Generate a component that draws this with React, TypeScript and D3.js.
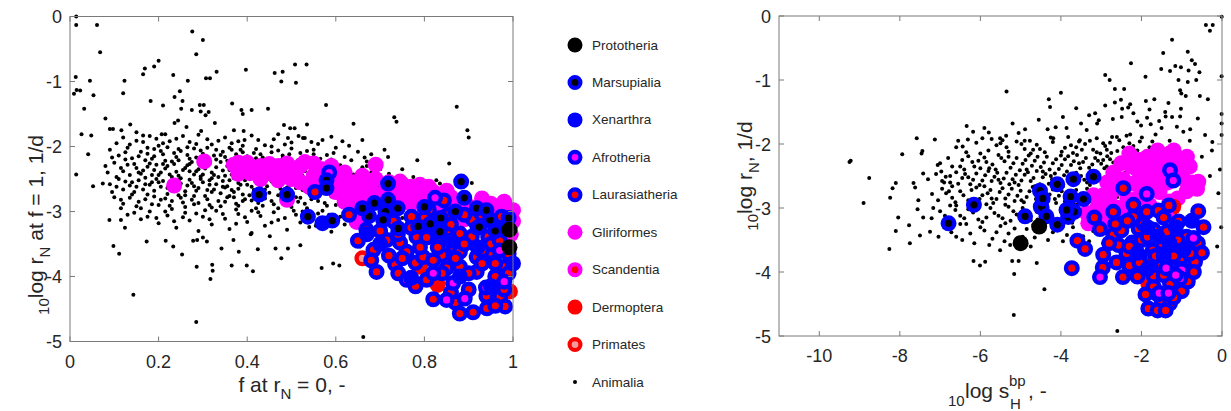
import React from "react";
import * as d3 from "d3";

type P = [number, number];

// ---------- LEFT PANEL DATA (x: f at rN = 0, y: 10log rN at f = 1) ----------
const leftAnimaliaOuter: P[] = [
  [0.014,0.0],[0.014,-0.13],[0.061,-0.13],[0.068,-0.55],[0.276,-0.23],[0.30,-0.36],[0.285,-0.58],[0.20,-0.68],[0.19,-0.77],[0.169,-0.80],
  [0.165,-0.89],[0.233,-0.90],[0.013,-0.93],[0.045,-0.99],[0.123,-0.99],[0.266,-0.99],[0.307,-0.95],[0.316,-0.95],[0.331,-0.85],[0.397,-0.82],
  [0.462,-0.87],[0.48,-0.85],[0.508,-0.74],[0.51,-1.02],[0.477,-1.0],[0.534,-0.74],[0.009,-1.19],[0.015,-1.13],[0.023,-1.14],[0.053,-1.21],
  [0.12,-1.18],[0.032,-1.42],[0.182,-1.30],[0.21,-1.37],[0.236,-1.24],[0.248,-1.15],[0.254,-1.30],[0.251,-1.42],[0.275,-1.44],[0.293,-1.36],
  [0.302,-1.36],[0.295,-1.46],[0.306,-1.52],[0.313,-1.47],[0.366,-1.34],[0.387,-1.44],[0.41,-1.44],[0.447,-1.42],[0.39,-1.50],[0.327,-1.64],
  [0.08,-1.57],[0.09,-1.73],[0.097,-1.73],[0.116,-1.75],[0.136,-1.66],[0.026,-1.81],[0.048,-1.83],[0.041,-2.12],[0.014,-2.43],[0.236,-1.64],
  [0.244,-1.60],[0.263,-1.70],[0.215,-1.81],[0.207,-1.81],[0.165,-1.83],[0.15,-1.78],[0.296,-1.76],[0.37,-1.75],[0.392,-1.76],[0.394,-1.90],
  [0.483,-1.67],[0.497,-1.72],[0.507,-1.72],[0.516,-1.84],[0.492,-1.87],[0.535,-1.66],[0.526,-1.87],
  [0.873,-1.39],[0.732,-1.55],[0.737,-1.62],[0.64,-1.65],[0.897,-1.75],[0.90,-1.86],[0.578,-1.36],
  [0.052,-2.61],[0.074,-2.57],[0.089,-3.13],[0.115,-3.13],[0.124,-3.25],[0.098,-3.53],[0.111,-3.65],[0.143,-4.28],[0.173,-3.46],[0.216,-3.45],
  [0.233,-3.54],[0.253,-3.66],[0.285,-4.70],[0.286,-3.85],[0.321,-3.82],[0.322,-3.91],[0.317,-4.04],[0.278,-3.45],[0.287,-3.44],[0.30,-3.40],
  [0.309,-3.46],[0.342,-3.57],[0.365,-3.83],[0.399,-3.83],[0.413,-3.92],[0.381,-3.62],[0.424,-3.58],[0.464,-3.57],[0.477,-3.72],[0.492,-3.57],
  [0.52,-3.52],[0.451,-3.38],[0.408,-3.35],[0.369,-3.44],
  [0.718,-2.16],[0.784,-2.21],[0.856,-2.26],[0.67,-2.23],[0.827,-2.52],[0.835,-2.57],[0.775,-2.47],[0.907,-2.56],[0.655,-3.54],[0.608,-3.83],
  [0.594,-3.80],[0.568,-3.87],[0.662,-4.93],
];
const leftAnimaliaCore: P[] = [
  [0.12,-1.86],[0.15,-1.91],[0.18,-1.84],[0.21,-1.95],[0.24,-1.88],[0.27,-1.93],[0.29,-1.82],[0.32,-1.97],[0.35,-1.86],[0.38,-1.92],
  [0.41,-1.83],[0.44,-1.98],[0.46,-1.89],[0.50,-1.94],[0.53,-1.87],[0.56,-1.96],[0.59,-1.85],[0.63,-1.99],[0.66,-1.90],[0.20,-1.99],
  [0.31,-1.89],[0.39,-1.99],[0.47,-1.81],[0.57,-1.90],
  [0.09,-2.05],[0.11,-2.14],[0.13,-2.02],[0.14,-2.18],[0.16,-2.08],[0.17,-2.21],[0.19,-2.04],[0.21,-2.12],[0.22,-2.01],[0.24,-2.16],
  [0.25,-2.07],[0.27,-2.19],[0.28,-2.03],[0.30,-2.11],[0.31,-2.17],[0.33,-2.05],[0.34,-2.13],[0.36,-2.02],[0.37,-2.19],[0.39,-2.09],
  [0.40,-2.15],[0.42,-2.04],[0.43,-2.12],[0.45,-2.20],[0.47,-2.06],[0.48,-2.14],[0.50,-2.03],[0.52,-2.10],[0.54,-2.18],[0.55,-2.05],
  [0.58,-2.13],[0.60,-2.02],[0.62,-2.16],[0.65,-2.08],[0.68,-2.12],[0.71,-2.05],
  [0.08,-2.30],[0.10,-2.25],[0.12,-2.38],[0.13,-2.28],[0.15,-2.33],[0.16,-2.42],[0.18,-2.26],[0.19,-2.36],[0.20,-2.44],[0.22,-2.30],
  [0.23,-2.23],[0.24,-2.39],[0.26,-2.33],[0.27,-2.27],[0.28,-2.43],[0.29,-2.35],[0.30,-2.29],[0.32,-2.40],[0.33,-2.32],[0.34,-2.24],
  [0.35,-2.45],[0.36,-2.36],[0.38,-2.28],[0.39,-2.41],[0.40,-2.33],[0.41,-2.25],[0.42,-2.44],[0.44,-2.37],[0.45,-2.30],[0.46,-2.42],
  [0.48,-2.26],[0.49,-2.35],[0.51,-2.43],[0.52,-2.31],[0.53,-2.38],[0.55,-2.27],[0.57,-2.44],[0.58,-2.34],[0.60,-2.40],[0.61,-2.29],
  [0.63,-2.36],[0.64,-2.43],[0.66,-2.32],[0.68,-2.40],[0.70,-2.35],[0.72,-2.42],
  [0.09,-2.58],[0.11,-2.50],[0.12,-2.66],[0.14,-2.55],[0.15,-2.62],[0.17,-2.48],[0.18,-2.59],[0.19,-2.68],[0.21,-2.53],[0.22,-2.64],
  [0.23,-2.47],[0.25,-2.57],[0.26,-2.69],[0.27,-2.51],[0.28,-2.61],[0.30,-2.55],[0.31,-2.67],[0.32,-2.49],[0.33,-2.58],[0.35,-2.63],
  [0.36,-2.52],[0.37,-2.70],[0.38,-2.56],[0.40,-2.48],[0.41,-2.62],[0.43,-2.54],[0.44,-2.66],[0.45,-2.50],[0.47,-2.59],[0.48,-2.68],
  [0.50,-2.55],[0.51,-2.64],[0.53,-2.49],[0.54,-2.60],[0.56,-2.69],[0.57,-2.53],[0.59,-2.64],[0.61,-2.57],[0.62,-2.68],[0.64,-2.51],
  [0.65,-2.62],[0.67,-2.55],[0.69,-2.66],[0.71,-2.59],[0.74,-2.63],
  [0.10,-2.78],[0.12,-2.88],[0.14,-2.74],[0.15,-2.92],[0.17,-2.81],[0.19,-2.77],[0.20,-2.90],[0.22,-2.73],[0.23,-2.84],[0.25,-2.79],
  [0.26,-2.93],[0.28,-2.76],[0.29,-2.87],[0.31,-2.81],[0.32,-2.94],[0.34,-2.72],[0.35,-2.85],[0.37,-2.78],[0.38,-2.91],[0.39,-2.74],
  [0.41,-2.83],[0.42,-2.95],[0.44,-2.80],[0.46,-2.89],[0.47,-2.75],[0.49,-2.86],[0.50,-2.93],[0.52,-2.79],[0.53,-2.88],[0.55,-2.73],
  [0.56,-2.84],[0.58,-2.91],[0.59,-2.77],[0.61,-2.86],[0.63,-2.93],[0.64,-2.80],[0.66,-2.89],[0.68,-2.76],[0.70,-2.85],[0.72,-2.92],
  [0.13,-3.05],[0.16,-3.12],[0.18,-3.00],[0.20,-3.18],[0.22,-3.06],[0.24,-3.25],[0.26,-3.02],[0.27,-3.14],[0.29,-3.30],[0.30,-3.08],
  [0.32,-3.20],[0.33,-2.99],[0.35,-3.11],[0.36,-3.27],[0.38,-3.04],[0.40,-3.16],[0.41,-3.33],[0.43,-3.07],[0.44,-3.22],[0.46,-3.01],
  [0.47,-3.13],[0.49,-3.28],[0.51,-3.05],[0.52,-3.17],[0.54,-3.24],[0.56,-3.03],[0.57,-3.15],[0.59,-3.31],[0.61,-3.08],[0.62,-3.20],
  [0.64,-3.02],[0.66,-3.14],[0.68,-3.26],[0.70,-3.05],[0.73,-3.18],[0.75,-3.10],
];
const leftAnimaliaFill: P[] = [
  [0.105,-1.95],[0.135,-1.97],[0.165,-1.93],[0.195,-1.88],[0.225,-1.92],[0.255,-1.84],[0.285,-1.96],[0.335,-1.91],[0.365,-1.95],[0.425,-1.90],
  [0.485,-1.97],[0.545,-1.93],[0.615,-1.92],
  [0.095,-2.17],[0.125,-2.09],[0.155,-2.15],[0.175,-2.11],[0.185,-2.19],[0.205,-2.07],[0.215,-2.22],[0.235,-2.10],[0.245,-2.04],[0.265,-2.13],
  [0.275,-2.24],[0.295,-2.06],[0.305,-2.21],[0.325,-2.14],[0.345,-2.08],[0.355,-2.22],[0.375,-2.12],[0.385,-2.05],[0.405,-2.20],[0.415,-2.10],
  [0.435,-2.17],[0.455,-2.09],[0.465,-2.23],[0.495,-2.12],[0.515,-2.21],[0.535,-2.07],[0.565,-2.19],[0.595,-2.10],[0.635,-2.21],[0.665,-2.17],
  [0.695,-2.24],
  [0.115,-2.33],[0.145,-2.27],[0.165,-2.37],[0.175,-2.31],[0.195,-2.28],[0.205,-2.40],[0.215,-2.34],[0.235,-2.27],[0.245,-2.45],[0.255,-2.36],
  [0.265,-2.29],[0.285,-2.38],[0.295,-2.46],[0.305,-2.34],[0.315,-2.26],[0.325,-2.44],[0.345,-2.37],[0.355,-2.30],[0.365,-2.43],[0.375,-2.35],
  [0.395,-2.47],[0.405,-2.30],[0.425,-2.36],[0.435,-2.48],[0.445,-2.33],[0.465,-2.38],[0.475,-2.30],[0.485,-2.47],[0.505,-2.37],[0.525,-2.45],
  [0.545,-2.34],[0.565,-2.39],[0.585,-2.46],[0.625,-2.33],[0.655,-2.46],[0.685,-2.30],
  [0.105,-2.62],[0.125,-2.54],[0.135,-2.60],[0.155,-2.52],[0.165,-2.66],[0.185,-2.55],[0.195,-2.50],[0.205,-2.62],[0.225,-2.56],[0.235,-2.68],
  [0.245,-2.52],[0.265,-2.60],[0.275,-2.56],[0.285,-2.68],[0.295,-2.50],[0.315,-2.59],[0.325,-2.66],[0.345,-2.53],[0.355,-2.61],[0.365,-2.67],
  [0.385,-2.59],[0.395,-2.52],[0.415,-2.67],[0.425,-2.57],[0.445,-2.61],[0.455,-2.54],[0.475,-2.65],[0.495,-2.59],[0.515,-2.53],[0.525,-2.67],
  [0.545,-2.56],[0.575,-2.62],[0.595,-2.55],[0.625,-2.60],[0.665,-2.58],[0.695,-2.62],
  [0.115,-2.82],[0.135,-2.79],[0.155,-2.85],[0.175,-2.74],[0.185,-2.89],[0.215,-2.80],[0.225,-2.91],[0.245,-2.75],[0.255,-2.86],[0.275,-2.82],
  [0.305,-2.76],[0.315,-2.90],[0.335,-2.84],[0.355,-2.78],[0.375,-2.88],[0.395,-2.81],[0.405,-2.75],[0.425,-2.87],[0.455,-2.84],[0.485,-2.79],
  [0.515,-2.85],[0.545,-2.81],[0.575,-2.87],[0.605,-2.79],[0.655,-2.84],[0.695,-2.80],
  [0.145,-3.02],[0.175,-3.08],[0.195,-3.10],[0.215,-3.00],[0.235,-3.15],[0.255,-3.09],[0.285,-3.03],[0.315,-3.12],[0.345,-3.04],[0.375,-3.19],
  [0.395,-3.09],[0.425,-3.01],[0.455,-3.17],[0.485,-3.10],[0.525,-3.00],[0.555,-3.22],[0.585,-3.05],[0.625,-3.12],[0.655,-3.24],[0.695,-3.15],
];
const leftAnimaliaDense: P[] = [
  [0.085,-2.40],[0.095,-2.70],[0.105,-2.47],[0.115,-2.95],[0.125,-2.20],[0.135,-2.44],[0.145,-2.70],[0.155,-2.40],[0.16,-2.95],[0.17,-2.58],
  [0.175,-2.02],[0.185,-2.44],[0.19,-2.15],[0.20,-2.55],[0.205,-2.82],[0.21,-2.27],[0.225,-2.43],[0.23,-2.96],[0.24,-2.62],[0.245,-2.21],
  [0.25,-2.49],[0.26,-2.75],[0.265,-2.01],[0.27,-2.38],[0.28,-2.89],[0.285,-2.17],[0.29,-2.64],[0.30,-2.43],[0.305,-2.98],[0.31,-2.02],
  [0.315,-2.52],[0.32,-2.70],[0.33,-2.20],[0.335,-2.47],[0.34,-2.92],[0.345,-2.62],[0.35,-2.16],[0.36,-2.76],[0.365,-2.05],[0.37,-2.49],
  [0.375,-2.97],[0.38,-2.65],[0.385,-2.21],[0.39,-2.84],[0.40,-2.59],[0.405,-2.40],[0.41,-2.99],[0.415,-2.72],[0.42,-2.18],[0.43,-2.62],
  [0.435,-2.91],[0.44,-2.44],[0.45,-2.71],[0.455,-2.00],[0.46,-2.56],[0.47,-2.95],[0.475,-2.45],[0.48,-2.18],[0.49,-2.63],[0.50,-2.40],
  [0.505,-2.99],[0.51,-2.78],[0.52,-2.20],[0.53,-2.64],[0.535,-2.95],[0.54,-2.48],[0.55,-2.12],[0.56,-2.76],[0.57,-2.99],[0.58,-2.70],
  [0.59,-2.20],[0.60,-2.90],[0.62,-2.48],[0.63,-2.72],[0.65,-2.95],[0.67,-2.30],[0.69,-2.47],[0.71,-2.75],[0.73,-2.50],[0.75,-2.35],
];

const leftPrototheria: P[] = [[0.992,-3.28],[0.992,-3.55]];
const leftMarsupialia: P[] = [
  [0.427,-2.74],[0.49,-2.74],[0.537,-3.08],[0.579,-2.52],[0.579,-2.64],[0.592,-3.14],[0.718,-2.57],[0.718,-2.82],[0.687,-2.87],[0.712,-3.0],
  [0.675,-3.07],[0.707,-3.13],[0.883,-2.54],[0.89,-2.79],[0.918,-2.95],[0.948,-3.13],[0.924,-3.24],[0.837,-3.10],[0.835,-3.31],[0.813,-3.19],
  [0.786,-3.23],[0.741,-3.26],[0.96,-3.30],[0.66,-2.95],[0.74,-2.95],[0.80,-2.93],[0.87,-3.00],[0.94,-2.98],[0.99,-3.10],
];
const leftXenarthra: P[] = [
  [0.57,-3.18],[1.0,-3.80],[0.77,-4.02],[0.92,-3.55],[0.86,-3.45],[0.70,-3.50],[0.83,-3.30],[0.88,-4.00],[0.95,-4.15],[0.67,-3.35],
];
const leftAfrotheria: P[] = [
  [0.585,-2.40],[0.82,-3.95],[0.865,-4.10],[0.85,-4.36],[0.891,-4.34],[0.939,-4.17],[0.98,-4.08],[0.76,-4.05],[0.824,-2.79],[0.97,-3.60],
];
const leftLaurasiatheria: P[] = [
  [0.553,-2.70],[0.669,-3.28],[0.685,-3.59],[0.734,-3.81],[0.745,-3.48],[0.715,-3.44],[0.692,-3.93],[0.741,-3.95],[0.771,-3.08],[0.782,-3.39],
  [0.78,-3.79],[0.805,-3.40],[0.797,-3.70],[0.805,-4.05],[0.84,-3.67],[0.844,-2.83],[0.853,-3.05],[0.865,-3.54],[0.88,-3.34],[0.88,-3.62],
  [0.88,-3.85],[0.88,-4.57],[0.91,-3.13],[0.907,-3.39],[0.918,-3.70],[0.918,-3.93],[0.941,-4.49],[0.948,-3.62],[0.944,-3.39],[0.967,-3.28],
  [0.971,-4.31],[0.982,-3.85],[0.982,-4.46],[0.974,-3.08],[0.82,-3.75],[0.838,-3.41],[0.85,-3.87],[0.96,-4.0],[0.90,-4.20],[0.76,-3.62],
  [0.82,-3.20],[0.95,-3.50],[0.86,-4.25],[0.93,-3.05],[0.72,-3.68],[0.99,-3.65],
  [0.63,-3.05],[0.65,-3.45],[0.70,-3.30],[0.73,-3.15],[0.75,-3.72],[0.77,-3.25],[0.79,-3.55],[0.81,-2.98],[0.83,-3.55],[0.84,-3.95],
  [0.86,-3.20],[0.87,-3.72],[0.89,-3.05],[0.89,-3.50],[0.90,-3.95],[0.92,-3.25],[0.93,-3.80],[0.94,-4.30],[0.95,-3.15],[0.96,-3.80],
  [0.97,-3.45],[0.98,-4.20],[0.99,-3.95],[0.78,-4.15],[0.82,-4.35],[0.87,-4.40],[0.91,-4.55],[0.96,-4.45],[0.68,-3.75],[0.74,-3.35],
  [0.80,-3.10],[0.85,-3.35],[0.93,-3.60],
];
const leftGliriformes: P[] = [
  [0.235,-2.60],[0.303,-2.23],[0.37,-2.28],[0.39,-2.35],[0.40,-2.25],[0.406,-2.41],[0.42,-2.40],[0.43,-2.30],[0.45,-2.27],[0.46,-2.44],
  [0.48,-2.35],[0.49,-2.26],[0.50,-2.50],[0.51,-2.38],[0.49,-2.82],[0.53,-2.24],[0.55,-2.26],[0.55,-2.45],[0.57,-2.35],[0.59,-2.30],
  [0.60,-2.48],[0.61,-2.62],[0.62,-2.40],[0.63,-2.75],[0.64,-2.55],[0.64,-2.90],[0.647,-3.16],[0.66,-2.45],[0.67,-2.62],[0.69,-2.28],
  [0.69,-2.50],[0.71,-2.70],[0.72,-2.55],[0.745,-2.54],[0.76,-2.72],[0.77,-2.62],[0.79,-2.59],[0.80,-2.80],[0.82,-2.70],[0.84,-2.90],
  [0.86,-2.78],[0.88,-2.84],[0.90,-2.92],[0.93,-2.80],[0.95,-2.88],[0.97,-2.93],[0.99,-3.05],[0.993,-3.23],[1.0,-2.98],[0.96,-3.05],
  [0.92,-3.00],[0.98,-2.85],[1.0,-3.15],[0.94,-2.95],[0.87,-2.95],[0.56,-2.55],[0.52,-2.30],[0.44,-2.35],[0.38,-2.25],[0.41,-2.32],
  [0.47,-2.30],[0.58,-2.42],[0.62,-2.52],[0.65,-2.62],[0.68,-2.68],[0.73,-2.65],[0.75,-2.58],[0.78,-2.68],[0.81,-2.62],[0.83,-2.80],
  [0.85,-2.68],
  [0.38,-2.42],[0.43,-2.50],[0.47,-2.52],[0.52,-2.55],[0.54,-2.62],[0.58,-2.60],[0.60,-2.70],[0.62,-2.85],[0.66,-2.78],[0.70,-2.85],
  [0.74,-2.80],[0.77,-2.88],[0.80,-2.95],[0.83,-3.0],[0.86,-3.05],[0.89,-3.12],[0.93,-3.15],[0.97,-3.20],[0.995,-3.35],
];
const leftScandentia: P[] = [[0.90,-3.47]];
const leftDermoptera: P[] = [[0.83,-4.13],[0.993,-4.23],[0.79,-3.85],[0.96,-3.66]];
const leftPrimates: P[] = [[0.66,-3.72]];

// ---------- RIGHT PANEL DATA (x: 10log sH^bp, y: 10log rN) ----------
const rightAnimaliaOuter: P[] = [
  [-0.007,-0.01],[-0.40,-0.14],[-0.23,-0.14],[-0.30,-0.23],[-1.24,-0.37],[-1.46,-0.58],[-0.85,-0.56],[-0.75,-0.69],[-0.67,-0.75],[-1.16,-0.78],
  [-1.02,-0.80],[-1.51,-0.83],[-1.29,-0.86],[-0.83,-0.85],[-0.56,-0.88],[-1.08,-1.00],[-0.85,-1.03],[-0.64,-1.0],[-0.01,-0.94],[-2.26,-0.74],
  [-2.90,-0.92],[-2.79,-1.0],[-1.90,-0.95],[-5.35,-1.18],[-4.0,-1.20],[-4.30,-1.30],[-4.27,-1.42],[-2.66,-1.14],[-2.43,-1.14],[-1.04,-1.16],
  [-1.01,-1.21],[-0.90,-1.25],[-2.51,-1.31],[-2.66,-1.35],[-2.28,-1.38],[-2.33,-1.43],[-1.89,-1.33],[-1.68,-1.30],[-1.33,-1.36],[-3.62,-1.44],
  [-3.15,-1.52],[-3.06,-1.63],[-3.10,-1.68],[-1.80,-1.46],[-1.41,-1.50],[-1.40,-1.57],[-1.24,-1.58],[-1.02,-1.45],[-1.04,-1.57],[-2.71,-1.61],
  [-2.49,-1.58],[-2.48,-1.45],[-2.10,-1.65],[-2.01,-1.71],[-1.86,-1.59],[-1.77,-1.69],[-1.56,-1.64],[-1.50,-1.75],[-1.12,-1.73],[-0.79,-1.77],
  [-0.96,-1.81],[-0.42,-1.86],[-0.24,-1.97],[-0.01,-1.53],[-0.01,-1.68],[-0.01,-1.86],[-6.34,-1.72],[-6.18,-1.81],[-6.31,-1.93],[-6.44,-2.04],
  [-5.79,-1.82],[-5.95,-1.91],[-5.36,-1.87],[-5.51,-1.91],[-5.50,-1.99],[-5.05,-1.83],[-4.89,-1.77],[-4.90,-1.95],[-4.77,-1.95],[-4.69,-2.09],
  [-4.33,-1.77],[-4.13,-1.74],[-3.86,-1.75],[-3.82,-1.89],[-4.19,-1.91],[-3.36,-1.78],[-3.75,-2.02],[-3.53,-1.94],[-3.48,-2.09],[-3.11,-1.91],
  [-2.95,-1.99],[-3.11,-2.13],[-2.86,-2.09],[-2.73,-1.89],[-2.61,-1.89],[-2.55,-1.94],[-2.37,-1.87],[-2.28,-1.85],[-1.99,-1.90],[-2.04,-1.96],
  [-2.20,-2.03],[-2.41,-2.09],[-2.37,-2.22],[-1.62,-2.07],[-1.73,-1.96],[-1.44,-2.09],[-2.59,-2.30],[-2.86,-2.35],[-2.70,-2.51],
  [-9.25,-2.28],[-9.22,-2.26],[-8.76,-2.53],[-8.90,-2.92],[-8.26,-3.64],[-8.24,-2.84],[-8.10,-3.36],[-8.04,-3.15],[-8.18,-2.69],[-8.10,-2.61],
  [-7.94,-2.16],[-7.77,-3.27],[-7.75,-3.55],[-7.58,-1.91],[-7.44,-2.11],[-7.46,-2.15],[-7.66,-2.61],[-7.62,-2.68],[-7.54,-2.88],[-7.56,-3.02],
  [-7.42,-2.46],[-7.42,-3.15],[-7.50,-3.43],[-7.21,-3.16],[-7.25,-3.37],[-7.17,-3.00],[-7.04,-3.45],[-7.13,-1.93],[-7.06,-2.33],[-6.97,-2.43],
  [-6.86,-2.51],[-6.75,-2.60],[-6.78,-2.74],[-6.17,-3.83],[-6.01,-3.90],[-5.88,-3.84],[-5.17,-4.67],[-5.16,-4.03],[-5.21,-3.83],[-5.05,-3.83],
  [-4.41,-4.27],[-4.60,-3.86],[-5.51,-3.66],[-5.26,-3.58],[-2.60,-4.92],[-0.09,-2.77],[-0.05,-2.40],[-0.02,-3.30],[-0.12,-3.60],
  [-5.9,-1.75],[-5.2,-1.68],[-4.55,-1.62],[-3.95,-1.58],[-3.3,-1.55],[-2.9,-1.40],[-2.2,-1.52],[-1.65,-1.85],[-1.3,-1.95],[-0.6,-1.6],
  [-0.35,-1.3],[-0.55,-1.25],[-3.5,-1.68],[-0.5,-2.2],[-0.3,-2.5],[-0.8,-1.95],[-0.25,-2.1],
];
const rightAnimaliaCore: P[] = [
  [-6.6,-2.05],[-6.1,-1.98],[-5.8,-2.10],[-5.6,-2.02],[-5.3,-2.12],[-5.1,-1.96],[-4.9,-2.08],[-4.6,-2.01],[-4.4,-2.13],[-4.2,-1.97],
  [-3.9,-2.06],[-3.7,-2.14],[-3.4,-2.00],[-3.2,-2.09],[-2.9,-2.03],[-2.6,-2.11],[-2.3,-1.99],[-2.1,-2.10],[-1.8,-2.05],[-6.35,-2.13],
  [-5.45,-1.94],[-4.75,-2.15],[-3.55,-1.96],[-2.75,-2.14],
  [-7.0,-2.30],[-6.8,-2.22],[-6.5,-2.35],[-6.3,-2.19],[-6.2,-2.28],[-6.0,-2.38],[-5.9,-2.21],[-5.7,-2.32],[-5.55,-2.17],[-5.4,-2.27],
  [-5.25,-2.37],[-5.1,-2.22],[-4.95,-2.31],[-4.8,-2.18],[-4.65,-2.26],[-4.5,-2.36],[-4.35,-2.20],[-4.2,-2.30],[-4.05,-2.39],[-3.9,-2.24],
  [-3.75,-2.33],[-3.6,-2.17],[-3.45,-2.28],[-3.3,-2.37],[-3.15,-2.22],[-3.0,-2.31],[-2.85,-2.19],[-2.7,-2.29],[-2.55,-2.38],[-2.4,-2.23],
  [-2.2,-2.33],[-2.0,-2.20],[-1.8,-2.30],[-1.6,-2.25],
  [-7.3,-2.55],[-7.1,-2.47],[-6.9,-2.60],[-6.6,-2.44],[-6.45,-2.53],[-6.25,-2.63],[-6.1,-2.46],[-5.95,-2.57],[-5.8,-2.42],[-5.65,-2.51],
  [-5.5,-2.61],[-5.35,-2.45],[-5.2,-2.55],[-5.05,-2.64],[-4.9,-2.48],[-4.75,-2.58],[-4.6,-2.42],[-4.45,-2.52],[-4.3,-2.62],[-4.15,-2.46],
  [-4.0,-2.56],[-3.85,-2.43],[-3.7,-2.64],[-3.5,-2.50],[-3.35,-2.60],[-3.2,-2.44],[-3.05,-2.54],[-2.9,-2.62],[-2.75,-2.47],[-2.6,-2.57],
  [-2.4,-2.45],[-2.2,-2.55],[-1.95,-2.48],
  [-7.2,-2.78],[-6.95,-2.70],[-6.7,-2.84],[-6.5,-2.74],[-6.3,-2.88],[-6.1,-2.68],[-5.95,-2.80],[-5.75,-2.72],[-5.6,-2.86],[-5.45,-2.69],
  [-5.3,-2.79],[-5.15,-2.89],[-5.0,-2.73],[-4.85,-2.83],[-4.7,-2.67],[-4.55,-2.77],[-4.35,-2.87],[-4.2,-2.71],[-4.05,-2.81],[-3.9,-2.90],
  [-3.7,-2.75],[-3.55,-2.86],[-3.35,-2.70],[-3.15,-2.80],[-2.95,-2.88],[-2.8,-2.73],[-2.6,-2.83],[-2.35,-2.78],
  [-7.0,-3.05],[-6.75,-2.96],[-6.5,-3.12],[-6.3,-3.02],[-6.05,-3.18],[-5.85,-2.94],[-5.65,-3.08],[-5.45,-3.16],[-5.3,-2.98],[-5.1,-3.10],
  [-4.95,-3.00],[-4.75,-3.19],[-4.6,-3.06],[-4.4,-2.97],[-4.25,-3.14],[-4.0,-3.04],[-3.85,-3.20],[-3.6,-2.95],[-3.4,-3.10],[-3.2,-3.02],
  [-3.0,-3.15],[-2.8,-2.98],[-2.6,-3.08],
  [-6.9,-3.30],[-6.6,-3.45],[-6.35,-3.25],[-6.15,-3.55],[-5.9,-3.35],[-5.7,-3.48],[-5.5,-3.28],[-5.3,-3.40],[-5.05,-3.58],[-4.85,-3.33],
  [-4.65,-3.46],[-4.45,-3.24],[-4.2,-3.38],[-3.95,-3.52],[-3.7,-3.30],[-3.45,-3.44],[-3.2,-3.36],[-2.95,-3.55],[-2.7,-3.28],[-2.45,-3.62],
  [-2.2,-3.48],[-1.95,-3.70],
];
const rightAnimaliaFill: P[] = [
  [-6.45,-2.25],[-6.15,-2.35],[-5.85,-2.28],[-5.62,-2.40],[-5.48,-2.22],[-5.18,-2.30],[-5.02,-2.41],[-4.88,-2.25],[-4.72,-2.34],[-4.58,-2.20],
  [-4.42,-2.29],[-4.28,-2.40],[-4.12,-2.24],[-3.98,-2.33],[-3.82,-2.19],[-3.68,-2.27],[-3.52,-2.38],[-3.38,-2.22],[-3.22,-2.32],[-3.08,-2.26],
  [-2.92,-2.38],[-2.78,-2.24],[-2.5,-2.31],[-2.3,-2.18],[-2.1,-2.28],
  [-6.75,-2.50],[-6.55,-2.62],[-6.38,-2.47],[-6.18,-2.56],[-6.02,-2.64],[-5.88,-2.49],[-5.72,-2.58],[-5.58,-2.45],[-5.42,-2.54],[-5.28,-2.63],
  [-5.12,-2.48],[-4.98,-2.57],[-4.82,-2.44],[-4.68,-2.53],[-4.52,-2.63],[-4.38,-2.47],[-4.22,-2.55],[-4.08,-2.64],[-3.92,-2.49],[-3.78,-2.58],
  [-3.62,-2.45],[-3.42,-2.56],[-3.28,-2.64],[-3.12,-2.50],[-2.98,-2.59],[-2.82,-2.44],[-2.68,-2.63],[-2.5,-2.52],[-2.3,-2.62],
  [-7.05,-2.88],[-6.85,-2.77],[-6.62,-2.91],[-6.42,-2.80],[-6.22,-2.72],[-6.02,-2.86],[-5.82,-2.77],[-5.68,-2.92],[-5.52,-2.75],[-5.38,-2.85],
  [-5.22,-2.70],[-5.08,-2.81],[-4.92,-2.91],[-4.78,-2.74],[-4.62,-2.86],[-4.45,-2.70],[-4.28,-2.79],[-4.12,-2.92],[-3.98,-2.74],[-3.78,-2.84],
  [-3.62,-2.72],[-3.45,-2.82],[-3.25,-2.90],[-3.05,-2.76],[-2.88,-2.92],[-2.7,-2.80],
  [-6.88,-3.12],[-6.62,-3.03],[-6.4,-3.16],[-6.18,-3.07],[-5.95,-3.22],[-5.75,-3.00],[-5.55,-3.12],[-5.38,-3.24],[-5.18,-3.05],[-5.0,-3.17],
  [-4.82,-3.08],[-4.68,-3.26],[-4.32,-3.06],[-4.15,-3.21],[-3.92,-3.11],[-3.72,-3.23],[-3.52,-3.04],[-3.3,-3.18],[-3.1,-3.28],[-2.9,-3.10],
  [-6.72,-3.38],[-6.45,-3.50],[-6.25,-3.40],[-6.0,-3.30],[-5.78,-3.58],[-5.6,-3.38],[-5.4,-3.52],[-5.15,-3.32],[-4.95,-3.45],[-4.75,-3.60],
  [-4.55,-3.36],[-4.32,-3.50],[-4.08,-3.30],[-3.85,-3.42],[-3.58,-3.58],[-3.3,-3.52],[-3.05,-3.40],[-2.8,-3.65],[-2.55,-3.45],
];
const rightAnimaliaDense: P[] = [
  [-6.55,-1.95],[-6.0,-2.15],[-5.72,-1.92],[-5.35,-2.05],[-4.98,-2.00],[-4.52,-2.08],[-4.25,-1.90],[-3.98,-2.12],[-3.62,-2.05],[-3.28,-1.95],
  [-3.02,-2.15],[-2.78,-1.98],[-2.45,-2.05],
  [-6.7,-2.35],[-6.4,-2.40],[-6.05,-2.26],[-5.78,-2.38],[-5.3,-2.20],[-4.85,-2.40],[-4.45,-2.43],[-4.0,-2.18],[-3.55,-2.30],[-3.25,-2.42],
  [-2.95,-2.25],[-2.65,-2.40],
  [-6.95,-2.58],[-6.7,-2.66],[-6.3,-2.52],[-5.9,-2.66],[-5.55,-2.56],[-5.15,-2.60],[-4.65,-2.66],[-4.25,-2.50],[-3.95,-2.66],[-3.58,-2.55],
  [-3.15,-2.58],[-2.85,-2.52],
  [-6.6,-2.96],[-6.2,-2.93],[-5.72,-2.85],[-5.38,-2.95],[-4.98,-2.88],[-4.62,-2.95],[-4.15,-2.86],[-3.68,-2.94],[-3.28,-2.86],[-2.98,-2.96],
  [-6.5,-3.25],[-5.85,-3.15],[-5.25,-3.20],[-4.58,-3.18],[-3.95,-3.28],[-3.45,-3.25],[-2.85,-3.35],
];
const rightPrototheria: P[] = [[-4.54,-3.29],[-5.00,-3.55]];
const rightMarsupialia: P[] = [
  [-6.79,-3.24],[-6.16,-2.95],[-4.52,-2.73],[-4.89,-3.13],[-4.50,-2.98],[-4.09,-2.63],[-3.69,-2.55],[-3.19,-2.51],[-3.76,-2.82],[-3.44,-2.86],
  [-4.48,-2.99],[-4.36,-3.13],[-4.09,-3.26],[-3.82,-3.14],[-3.67,-3.06],[-3.86,-3.03],[-4.45,-2.85],
];
const rightXenarthra: P[] = [
  [-1.6,-3.45],[-1.15,-3.3],[-1.85,-3.95],[-1.45,-3.75],[-0.75,-3.2],[-2.1,-3.7],[-1.85,-3.3],[-1.3,-3.55],[-0.95,-3.65],
];
const rightAfrotheria: P[] = [
  [-1.87,-2.78],[-1.29,-2.41],[-1.21,-2.57],[-0.71,-3.47],[-1.0,-3.97],[-1.04,-4.10],[-1.39,-3.94],[-1.56,-4.33],[-1.33,-4.33],[-3.03,-4.08],
  [-1.15,-4.05],
];
const rightLaurasiatheria: P[] = [
  [-2.45,-2.69],[-3.17,-3.15],[-3.03,-3.33],[-2.70,-3.06],[-2.70,-3.42],[-2.45,-3.24],[-2.20,-3.14],[-2.23,-3.54],[-2.57,-3.58],[-2.37,-3.71],
  [-2.95,-3.73],[-2.62,-3.85],[-2.96,-3.93],[-3.59,-3.51],[-3.40,-3.64],[-3.73,-3.94],[-2.46,-4.08],[-2.10,-4.07],[-1.83,-4.57],[-1.70,-4.23],
  [-1.50,-4.49],[-1.29,-4.49],[-1.87,-3.06],[-1.58,-3.04],[-1.32,-2.96],[-1.08,-3.21],[-0.59,-3.05],[-0.46,-3.30],[-0.88,-3.60],[-0.67,-3.84],
  [-1.21,-3.63],[-1.54,-3.55],[-1.72,-3.66],[-2.0,-3.50],[-2.07,-3.32],[-1.70,-3.34],[-1.37,-3.37],[-0.88,-3.45],[-1.77,-3.77],[-1.25,-3.86],
  [-1.04,-3.82],[-0.79,-3.71],[-1.70,-4.06],[-1.29,-4.18],[-2.2,-2.95],[-1.95,-3.25],[-1.45,-3.15],[-1.1,-3.5],[-1.5,-3.9],[-1.0,-4.3],
  [-2.3,-3.9],[-1.6,-4.35],[-0.95,-4.0],
  [-2.8,-3.55],[-2.5,-3.35],[-2.3,-3.6],[-2.05,-3.85],[-1.85,-3.45],[-1.65,-3.75],[-1.45,-4.05],[-1.2,-3.75],[-1.0,-3.95],[-0.85,-4.15],
  [-0.7,-4.0],[-1.9,-4.35],[-1.6,-4.6],[-1.4,-4.6],[-2.35,-3.2],[-2.65,-3.25],[-1.2,-4.4],[-0.6,-3.55],[-0.5,-3.7],
];
const rightGliriformes: P[] = [
  [-2.9,-3.05],[-2.8,-2.85],[-2.75,-3.25],[-2.6,-2.70],[-2.55,-3.0],[-2.45,-2.55],[-2.35,-2.85],[-2.25,-2.35],[-2.2,-2.62],[-2.05,-2.25],
  [-2.0,-2.50],[-1.95,-2.75],[-1.85,-2.20],[-1.8,-2.40],[-1.7,-2.62],[-1.65,-2.30],[-1.55,-2.15],[-1.5,-2.45],[-1.4,-2.25],[-1.35,-2.60],
  [-1.25,-2.20],[-1.15,-2.40],[-1.05,-2.25],[-0.95,-2.55],[-1.3,-2.90],[-0.87,-2.20],[-0.62,-2.70],[-1.1,-2.85],[-2.65,-3.35],[-3.0,-3.25],
  [-2.95,-2.80],[-0.59,-2.59],[-0.88,-2.74],[-3.19,-2.80],[-3.36,-3.08],[-3.32,-3.24],[-1.04,-2.30],
  [-2.7,-2.45],[-2.5,-2.30],[-2.3,-2.15],[-2.1,-2.40],[-1.9,-2.55],[-1.75,-2.25],[-1.6,-2.10],[-1.45,-2.35],[-1.3,-2.15],[-1.2,-2.55],
  [-1.0,-2.45],[-0.8,-2.35],[-0.75,-2.6],[-1.55,-2.75],[-2.1,-2.85],[-2.4,-3.1],[-1.8,-2.95],[-2.6,-3.0],[-3.1,-3.0],[-1.2,-2.1],
  [-2.85,-2.6],
];
const rightScandentia: P[] = [[-1.4,-3.1]];
const rightDermoptera: P[] = [[-1.95,-3.86],[-1.83,-4.18],[-1.21,-2.98]];
const rightPrimates: P[] = [[-2.2,-3.82]];

// ---------- LEGEND / AXES TEXT ----------
const legendNames = [
  "Prototheria","Marsupialia","Xenarthra","Afrotheria","Laurasiatheria",
  "Gliriformes","Scandentia","Dermoptera","Primates","Animalia",
];
const leftXTicks = [0, 0.2, 0.4, 0.6, 0.8, 1];
const rightXTicks = [-10, -8, -6, -4, -2, 0];
const yTicks = [0, -1, -2, -3, -4, -5];

type Style = { kind: "solid" | "ring" | "dot"; edge: string; face: string };
const STYLES: Record<string, Style> = {
  Prototheria: { kind: "solid", edge: "#000000", face: "#000000" },
  Marsupialia: { kind: "ring", edge: "#0000ff", face: "#000000" },
  Xenarthra: { kind: "solid", edge: "#0000ff", face: "#0000ff" },
  Afrotheria: { kind: "ring", edge: "#0000ff", face: "#ff00ff" },
  Laurasiatheria: { kind: "ring", edge: "#0000ff", face: "#ff0000" },
  Gliriformes: { kind: "solid", edge: "#ff00ff", face: "#ff00ff" },
  Scandentia: { kind: "ring", edge: "#ff00ff", face: "#ff0000" },
  Dermoptera: { kind: "solid", edge: "#ff0000", face: "#ff0000" },
  Primates: { kind: "ring", edge: "#ff0000", face: "#f59a9a" },
  Animalia: { kind: "dot", edge: "#000000", face: "#000000" },
};

const FONT = "Arial, 'Liberation Sans', Helvetica, sans-serif";
const AXC = "#7a7a7a";
const TXC = "#262626";

function Marker({ x, y, s, big = 8 }: { x: number; y: number; s: Style; big?: number }) {
  if (s.kind === "dot") return <circle cx={x} cy={y} r={2} fill="#000" />;
  if (s.kind === "solid") return <circle cx={x} cy={y} r={big} fill={s.face} />;
  const sw = big * 0.55;
  return <circle cx={x} cy={y} r={big - sw / 2} fill={s.face} stroke={s.edge} strokeWidth={sw} />;
}

type Panel = {
  x0: number; x1: number; y0: number; y1: number;
  xDomain: [number, number];
  xTicks: number[];
  groups: [string, P[]][];
};

const drawOrder = [
  "Animalia","Gliriformes","Dermoptera","Primates","Scandentia",
  "Laurasiatheria","Afrotheria","Xenarthra","Marsupialia","Prototheria",
];

function PanelView({ p }: { p: Panel }) {
  const xs = d3.scaleLinear().domain(p.xDomain).range([p.x0, p.x1]);
  const ys = d3.scaleLinear().domain([-5, 0]).range([p.y1, p.y0]);
  const byName = new Map(p.groups);
  const tl = 5;
  return (
    <g>
      {drawOrder.map((name) =>
        (byName.get(name) || []).map((d, i) => (
          <Marker key={name + i} x={xs(d[0])} y={ys(d[1])} s={STYLES[name]} />
        ))
      )}
      <rect x={p.x0} y={p.y0} width={p.x1 - p.x0} height={p.y1 - p.y0} fill="none" stroke={AXC} strokeWidth={1} />
      {p.xTicks.map((t) => (
        <g key={"xt" + t}>
          <line x1={xs(t)} x2={xs(t)} y1={p.y1} y2={p.y1 - tl} stroke={AXC} />
          <line x1={xs(t)} x2={xs(t)} y1={p.y0} y2={p.y0 + tl} stroke={AXC} />
          <text x={xs(t)} y={p.y1 + 26} textAnchor="middle" fontSize={18} fill={TXC} fontFamily={FONT}>
            {String(t)}
          </text>
        </g>
      ))}
      {yTicks.map((t) => (
        <g key={"yt" + t}>
          <line x1={p.x0} x2={p.x0 + tl} y1={ys(t)} y2={ys(t)} stroke={AXC} />
          <line x1={p.x1} x2={p.x1 - tl} y1={ys(t)} y2={ys(t)} stroke={AXC} />
          <text x={p.x0 - 8} y={ys(t) + 6.5} textAnchor="end" fontSize={18} fill={TXC} fontFamily={FONT}>
            {String(t)}
          </text>
        </g>
      ))}
    </g>
  );
}

export default function App() {
  const left: Panel = {
    x0: 70, x1: 513, y0: 16.5, y1: 341.5, xDomain: [0, 1], xTicks: leftXTicks,
    groups: [
      ["Animalia", [...leftAnimaliaOuter, ...leftAnimaliaCore, ...leftAnimaliaFill, ...leftAnimaliaDense]],
      ["Prototheria", leftPrototheria], ["Marsupialia", leftMarsupialia],
      ["Xenarthra", leftXenarthra], ["Afrotheria", leftAfrotheria], ["Laurasiatheria", leftLaurasiatheria],
      ["Gliriformes", leftGliriformes], ["Scandentia", leftScandentia], ["Dermoptera", leftDermoptera],
      ["Primates", leftPrimates],
    ],
  };
  const right: Panel = {
    x0: 779, x1: 1222, y0: 16, y1: 336, xDomain: [-11, 0], xTicks: rightXTicks,
    groups: [
      ["Animalia", [...rightAnimaliaOuter, ...rightAnimaliaCore, ...rightAnimaliaFill, ...rightAnimaliaDense]],
      ["Prototheria", rightPrototheria], ["Marsupialia", rightMarsupialia],
      ["Xenarthra", rightXenarthra], ["Afrotheria", rightAfrotheria], ["Laurasiatheria", rightLaurasiatheria],
      ["Gliriformes", rightGliriformes], ["Scandentia", rightScandentia], ["Dermoptera", rightDermoptera],
      ["Primates", rightPrimates],
    ],
  };
  const legY = d3.scaleLinear().domain([0, legendNames.length - 1]).range([45, 382]);
  return (
    <svg width={1231} height={411} style={{ position: "absolute", left: 0, top: 0, background: "#fff" }} fontFamily={FONT}>
      <rect x={0} y={0} width={1231} height={411} fill="#fff" />
      <PanelView p={left} />
      <PanelView p={right} />

      <text x={292} y={392} textAnchor="middle" fontSize={21} fill={TXC}>
        f at r<tspan dy={7} fontSize={15}>N</tspan><tspan dy={-7}> = 0, -</tspan>
      </text>
      <text transform="translate(43,225) rotate(-90)" textAnchor="middle" fontSize={21} fill={TXC}>
        <tspan dy={6} fontSize={15}>10</tspan><tspan dy={-6}>log r</tspan><tspan dy={7} fontSize={15}>N</tspan><tspan dy={-7}> at f = 1, 1/d</tspan>
      </text>

      <text x={948} y={406} fontSize={15} fill={TXC}>10</text>
      <text x={965} y={398} fontSize={21} fill={TXC}>log s</text>
      <text x={1009} y={386} fontSize={15} fill={TXC}>bp</text>
      <text x={1010} y={409} fontSize={15} fill={TXC}>H</text>
      <text x={1028} y={398} fontSize={21} fill={TXC}>, -</text>

      <text transform="translate(752,176) rotate(-90)" textAnchor="middle" fontSize={21} fill={TXC}>
        <tspan dy={6} fontSize={15}>10</tspan><tspan dy={-6}>log r</tspan><tspan dy={7} fontSize={15}>N</tspan><tspan dy={-7}>, 1/d</tspan>
      </text>

      {legendNames.map((n, i) => (
        <g key={n}>
          <Marker x={575} y={legY(i)} s={STYLES[n]} big={7.5} />
          <text x={592} y={legY(i) + 4.5} fontSize={13.5} fill={TXC}>{n}</text>
        </g>
      ))}
    </svg>
  );
}
